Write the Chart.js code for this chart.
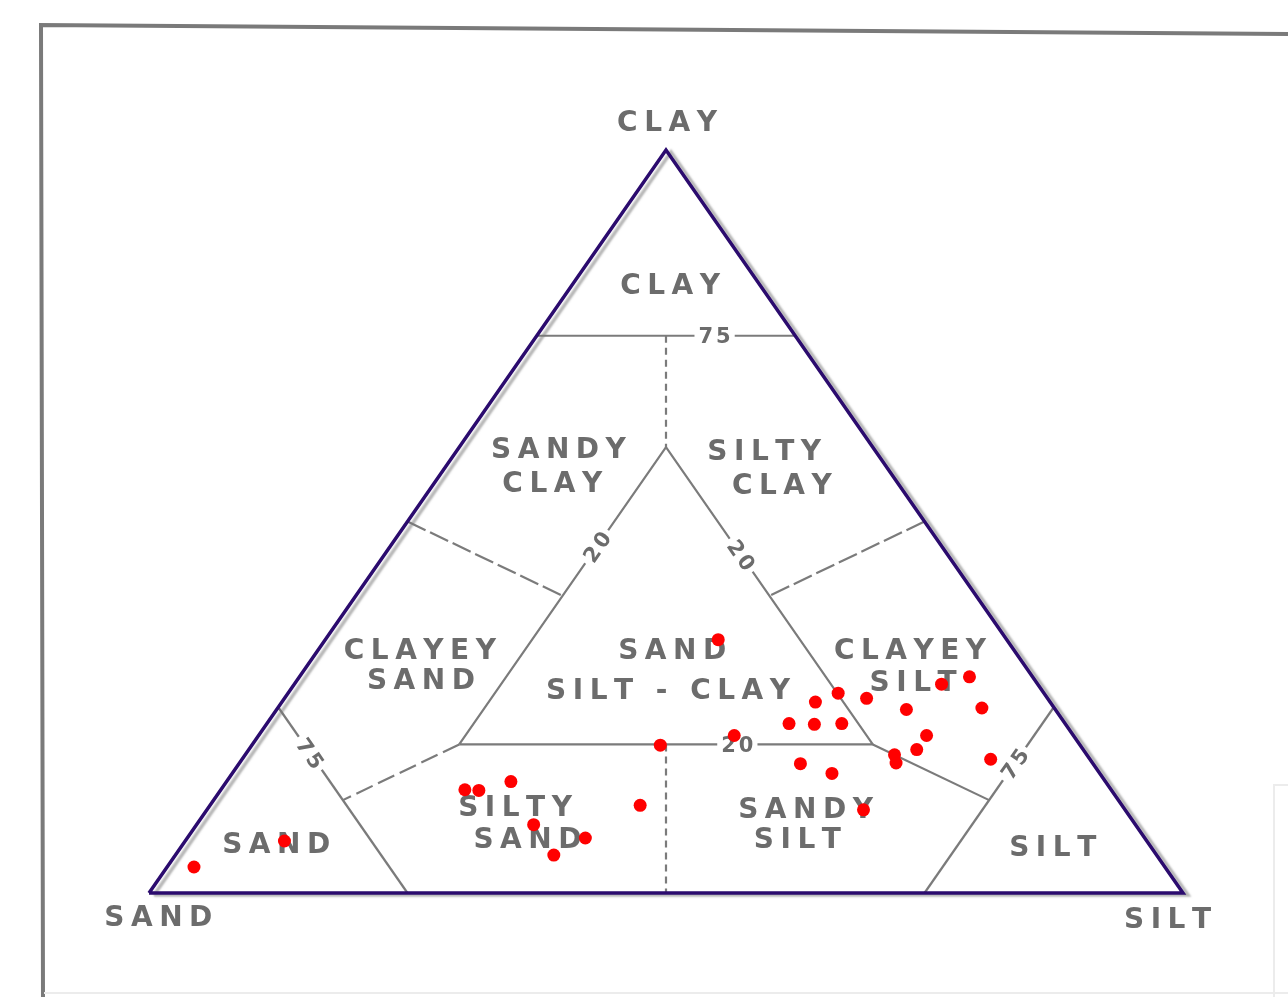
<!DOCTYPE html>
<html>
<head>
<meta charset="utf-8">
<script src="https://cdn.jsdelivr.net/npm/chart.js@4.4.1/dist/chart.umd.min.js"></script>
<style>
  body { margin: 0; background: #fff; }
  canvas { display: block; }
</style>
</head>
<body>
<canvas id="ternaryChart" width="1288" height="997"></canvas>
<script>
// Sample compositions, percent (sand + silt + clay = 100)
const sandPct = [93.9, 83.4, 62.5, 61.2, 57.5, 58.2, 58.3, 54.1, 46.6, 40.6,
                 27.9, 32.8, 26.7, 22.7, 24.3, 19.9, 21.6, 17.5, 14.4, 9.3,
                 6.1, 7.0, 14.2, 16.1, 18.6, 19.0, 9.6, 28.3, 25.9, 25.3];
const siltPct = [2.6, 9.6, 23.6, 25.0, 27.5, 32.6, 36.6, 38.5, 41.6, 39.5,
                 38.0, 46.0, 50.5, 51.6, 53.0, 53.2, 55.6, 56.3, 60.9, 62.6,
                 64.8, 68.1, 64.6, 64.6, 62.8, 63.5, 72.4, 54.3, 58.0, 63.5];
const clayPct = [3.5, 7.0, 13.9, 13.8, 15.0, 9.2, 5.1, 7.4, 11.8, 19.9,
                 34.1, 21.2, 22.8, 25.7, 22.7, 26.9, 22.8, 26.2, 24.7, 28.1,
                 29.1, 24.9, 21.2, 19.3, 18.6, 17.5, 18.0, 17.4, 16.1, 11.2];

// Class boundaries (Shepard), each point is [sand, silt, clay]
const outline = [[100, 0, 0], [0, 100, 0], [0, 0, 100], [100, 0, 0]];
const centralTriangle = [[60, 20, 20], [20, 60, 20], [20, 20, 60], [60, 20, 20]];
const clay75 = [[25, 0, 75], [0, 25, 75]];
const sand75 = [[75, 0, 25], [75, 25, 0]];
const silt75 = [[0, 75, 25], [25, 75, 0]];
const splitTop = [[12.5, 12.5, 75], [20, 20, 60]];
const splitBottom = [[40, 40, 20], [50, 50, 0]];
const splitSandyClay = [[50, 0, 50], [40, 20, 40]];
const splitSiltyClay = [[0, 50, 50], [20, 40, 40]];
const splitClayeySand = [[60, 20, 20], [75, 12.5, 12.5]];
const splitClayeySilt = [[20, 60, 20], [12.5, 75, 12.5]];

// Text
const classNames = [
  'CLAY', 'SAND', 'SILT',
  'CLAY', 'SANDY', 'CLAY', 'SILTY', 'CLAY',
  'CLAYEY', 'SAND', 'SAND', 'SILT - CLAY', 'CLAYEY', 'SILT',
  'SILTY', 'SAND', 'SANDY', 'SILT', 'SAND', 'SILT'
];
const boundaryTicks = ['75', '20', '20', '20', '75', '75'];

// where the text sits, in chart units (x = silt + clay/2, y = clay)
const namePos = [
  [50.1, 103.9], [0.9, -3.1], [98.5, -3.4],
  [50.4, 82.0], [39.6, 59.9], [39.0, 55.3], [59.5, 59.6], [61.2, 55.0],
  [26.2, 32.9], [26.3, 28.8], [50.6, 32.8], [50.2, 27.5], [73.6, 32.9], [73.9, 28.5],
  [35.4, 11.7], [36.6, 7.4], [63.5, 11.4], [62.7, 7.4], [12.3, 6.7], [87.4, 6.3]
];
const tickPos = [[54.7, 75], [56.9, 20], [43.3, 46.6], [57.3, 45.5], [15.6, 18.8], [83.7, 17.4]];
const tickTilt = [0, 0, -1, 1, 1, -1];

function toXY(p) {
  const sum = p[0] + p[1] + p[2];
  return { x: (p[1] + p[2] / 2) / sum * 100, y: p[2] / sum * 100 };
}

const samples = sandPct.map((s, i) => toXY([s, siltPct[i], clayPct[i]]));

const GRAY = '#7b7b7b';
function boundary(points, dash) {
  return {
    type: 'line',
    data: points.map(toXY),
    borderColor: GRAY,
    borderWidth: 2.2,
    borderDash: dash || [],
    pointRadius: 0,
    fill: false,
    tension: 0,
    clip: false
  };
}

function spacedText(ctx, text, cx, cy, gap, capH) {
  const chars = [...text];
  const widths = chars.map(c => ctx.measureText(c).width);
  const total = widths.reduce((a, b) => a + b, 0) + gap * (chars.length - 1);
  let x = cx - total / 2;
  ctx.textAlign = 'left';
  ctx.textBaseline = 'alphabetic';
  chars.forEach((c, i) => {
    ctx.fillText(c, x, cy + capH / 2);
    x += widths[i] + gap;
  });
  return total;
}

const paperAndText = {
  id: 'paperAndText',
  beforeDraw(chart) {
    const ctx = chart.ctx;
    ctx.save();
    ctx.fillStyle = '#fff';
    ctx.fillRect(0, 0, chart.width, chart.height);
    // scanned page frame
    ctx.strokeStyle = '#7a7a7a';
    ctx.lineWidth = 4;
    ctx.beginPath();
    ctx.moveTo(43, 997);
    ctx.lineTo(41, 25);
    ctx.lineTo(1288, 34);
    ctx.stroke();
    ctx.strokeStyle = '#ececec';
    ctx.lineWidth = 2;
    ctx.beginPath();
    ctx.moveTo(1274, 997);
    ctx.lineTo(1274, 785);
    ctx.lineTo(1288, 785);
    ctx.moveTo(44, 993);
    ctx.lineTo(1288, 993);
    ctx.stroke();
    ctx.restore();
  },
  beforeDatasetDraw(chart, args) {
    const ctx = chart.ctx;
    const xs = chart.scales.x, ys = chart.scales.y;
    if (args.index === 1) {
      ctx.save();
      ctx.shadowColor = 'rgba(120,120,120,0.55)';
      ctx.shadowOffsetX = 5;
      ctx.shadowOffsetY = 2;
      ctx.shadowBlur = 2;
    }
    if (args.index !== 0) return;
    const area = chart.chartArea;
    const tilt = Math.atan2(area.bottom - area.top, (area.right - area.left) / 2);
    ctx.save();
    ctx.fillStyle = '#6c6c6c';
    ctx.font = 'bold 28px "DejaVu Sans"';
    classNames.forEach((t, i) => {
      const px = xs.getPixelForValue(namePos[i][0]);
      const py = ys.getPixelForValue(namePos[i][1]);
      spacedText(ctx, t, px, py, 6.5, 20);
    });
    ctx.font = 'bold 21px "DejaVu Sans"';
    boundaryTicks.forEach((t, i) => {
      const px = xs.getPixelForValue(tickPos[i][0]);
      const py = ys.getPixelForValue(tickPos[i][1]);
      ctx.save();
      ctx.translate(px, py);
      ctx.rotate(tickTilt[i] * tilt);
      const w = ctx.measureText(t).width + 3;
      ctx.fillStyle = '#fff';
      ctx.fillRect(-w / 2 - 4, -11, w + 8, 22);
      ctx.fillStyle = '#6c6c6c';
      spacedText(ctx, t, 0, 0, 3, 15);
      ctx.restore();
    });
    ctx.restore();
  },
  afterDatasetDraw(chart, args) {
    if (args.index === 1) chart.ctx.restore();
  }
};

const ctx = document.getElementById('ternaryChart').getContext('2d');
const ternaryChart = new Chart(ctx, {
  type: 'scatter',
  data: {
    datasets: [
      {
        label: 'Samples',
        data: samples,
        backgroundColor: '#ff0000',
        borderWidth: 0,
        pointRadius: 6.5,
        clip: false
      },
      {
        type: 'line',
        label: 'Outline',
        data: outline.map(toXY),
        borderColor: '#2b0b6e',
        borderWidth: 3.5,
        pointRadius: 0,
        fill: false,
        tension: 0,
        clip: false
      },
      boundary(centralTriangle),
      boundary(clay75),
      boundary(sand75),
      boundary(silt75),
      boundary(splitClayeySilt),
      boundary(splitTop, [7, 5]),
      boundary(splitBottom, [7, 5]),
      boundary(splitSandyClay, [20, 5]),
      boundary(splitSiltyClay, [20, 5]),
      boundary(splitClayeySand, [18, 6])
    ]
  },
  options: {
    responsive: false,
    animation: false,
    layout: { padding: { left: 149, right: 105, top: 150, bottom: 104 } },
    plugins: { legend: { display: false }, tooltip: { enabled: false } },
    scales: {
      x: { type: 'linear', min: 0, max: 100, display: false },
      y: { type: 'linear', min: 0, max: 100, display: false }
    }
  },
  plugins: [paperAndText]
});
</script>
</body>
</html>
